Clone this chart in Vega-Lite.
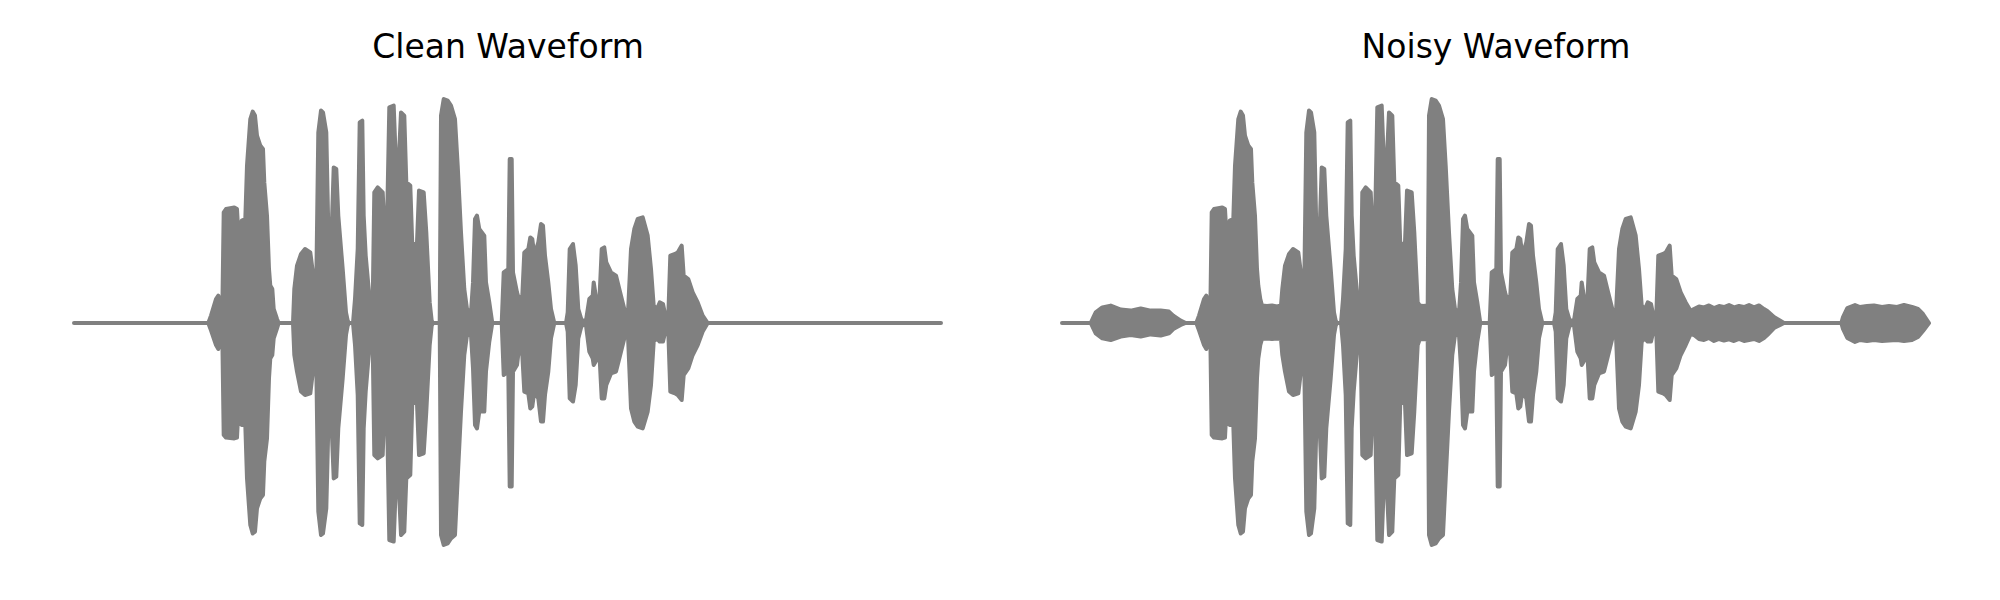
{
  "$schema": "https://vega.github.io/schema/vega-lite/v6.json",
  "autosize": {"type": "pad"},
  "padding": {"left": 72, "top": 32, "right": 0, "bottom": 0},
  "background": "white",
  "config": {"view": {"stroke": null}, "concat": {"spacing": 117}},
  "datasets": {
    "clean": [
      {"t":0,"hi":0,"lo":0},{"t":1.343,"hi":0,"lo":0},{"t":1.37,"hi":0.037,"lo":-0.037},{"t":1.42,"hi":0.12,"lo":-0.11},{"t":1.443,"hi":0.137,"lo":-0.13},{"t":1.463,"hi":0.103,"lo":-0.093},{"t":1.483,"hi":0.053,"lo":-0.06},{"t":1.497,"hi":0.553,"lo":-0.56},{"t":1.52,"hi":0.57,"lo":-0.573},{"t":1.603,"hi":0.578,"lo":-0.577},{"t":1.63,"hi":0.57,"lo":-0.573},{"t":1.643,"hi":0.453,"lo":-0.443},{"t":1.663,"hi":0.445,"lo":-0.502},{"t":1.677,"hi":0.512,"lo":-0.51},{"t":1.713,"hi":0.52,"lo":-0.51},{"t":1.73,"hi":0.787,"lo":-0.777},{"t":1.763,"hi":1.02,"lo":-1.01},{"t":1.787,"hi":1.057,"lo":-1.052},{"t":1.81,"hi":1.037,"lo":-1.043},{"t":1.83,"hi":0.937,"lo":-0.927},{"t":1.863,"hi":0.887,"lo":-0.877},{"t":1.89,"hi":0.87,"lo":-0.86},{"t":1.903,"hi":0.703,"lo":-0.693},{"t":1.93,"hi":0.537,"lo":-0.577},{"t":1.95,"hi":0.27,"lo":-0.277},{"t":1.963,"hi":0.187,"lo":-0.177},{"t":1.983,"hi":0.17,"lo":-0.16},{"t":1.997,"hi":0.07,"lo":-0.077},{"t":2.03,"hi":0.02,"lo":-0.027},{"t":2.047,"hi":0,"lo":0},{"t":2.19,"hi":0,"lo":0},{"t":2.203,"hi":0.17,"lo":-0.16},{"t":2.23,"hi":0.287,"lo":-0.243},{"t":2.27,"hi":0.345,"lo":-0.343},{"t":2.31,"hi":0.37,"lo":-0.36},{"t":2.363,"hi":0.353,"lo":-0.352},{"t":2.397,"hi":0.22,"lo":-0.21},{"t":2.423,"hi":0.203,"lo":-0.21},{"t":2.443,"hi":0.953,"lo":-0.943},{"t":2.47,"hi":1.062,"lo":-1.06},{"t":2.49,"hi":1.053,"lo":-1.052},{"t":2.523,"hi":0.953,"lo":-0.927},{"t":2.543,"hi":0.47,"lo":-0.527},{"t":2.577,"hi":0.47,"lo":-0.527},{"t":2.597,"hi":0.778,"lo":-0.777},{"t":2.623,"hi":0.77,"lo":-0.768},{"t":2.643,"hi":0.537,"lo":-0.527},{"t":2.687,"hi":0.27,"lo":-0.277},{"t":2.72,"hi":0.053,"lo":-0.06},{"t":2.737,"hi":0.012,"lo":-0.013},{"t":2.75,"hi":0,"lo":0},{"t":2.79,"hi":0,"lo":0},{"t":2.81,"hi":0.12,"lo":-0.11},{"t":2.837,"hi":0.37,"lo":-0.36},{"t":2.857,"hi":1.003,"lo":-1.002},{"t":2.883,"hi":1.012,"lo":-1.01},{"t":2.897,"hi":0.537,"lo":-0.527},{"t":2.917,"hi":0.337,"lo":-0.343},{"t":2.953,"hi":0.137,"lo":-0.127},{"t":2.987,"hi":0.103,"lo":-0.11},{"t":3.003,"hi":0.653,"lo":-0.66},{"t":3.037,"hi":0.678,"lo":-0.677},{"t":3.087,"hi":0.653,"lo":-0.66},{"t":3.103,"hi":0.487,"lo":-0.443},{"t":3.13,"hi":0.487,"lo":-0.443},{"t":3.153,"hi":1.078,"lo":-1.085},{"t":3.197,"hi":1.087,"lo":-1.093},{"t":3.217,"hi":0.828,"lo":-0.827},{"t":3.25,"hi":0.837,"lo":-0.843},{"t":3.27,"hi":1.053,"lo":-1.06},{"t":3.303,"hi":1.037,"lo":-1.043},{"t":3.323,"hi":0.703,"lo":-0.777},{"t":3.363,"hi":0.687,"lo":-0.76},{"t":3.383,"hi":0.387,"lo":-0.393},{"t":3.43,"hi":0.403,"lo":-0.402},{"t":3.45,"hi":0.662,"lo":-0.66},{"t":3.497,"hi":0.653,"lo":-0.652},{"t":3.523,"hi":0.453,"lo":-0.443},{"t":3.557,"hi":0.103,"lo":-0.11},{"t":3.577,"hi":0.012,"lo":-0.013},{"t":3.59,"hi":0,"lo":0},{"t":3.657,"hi":0,"lo":0},{"t":3.67,"hi":1.037,"lo":-1.06},{"t":3.697,"hi":1.12,"lo":-1.11},{"t":3.737,"hi":1.112,"lo":-1.102},{"t":3.77,"hi":1.087,"lo":-1.077},{"t":3.81,"hi":1.02,"lo":-1.06},{"t":3.837,"hi":0.787,"lo":-0.777},{"t":3.87,"hi":0.453,"lo":-0.443},{"t":3.903,"hi":0.17,"lo":-0.16},{"t":3.93,"hi":0.07,"lo":-0.06},{"t":3.97,"hi":0.053,"lo":-0.06},{"t":3.99,"hi":0.203,"lo":-0.227},{"t":4.01,"hi":0.52,"lo":-0.51},{"t":4.03,"hi":0.537,"lo":-0.527},{"t":4.053,"hi":0.47,"lo":-0.443},{"t":4.103,"hi":0.437,"lo":-0.443},{"t":4.12,"hi":0.203,"lo":-0.243},{"t":4.153,"hi":0.103,"lo":-0.093},{"t":4.183,"hi":0,"lo":0},{"t":4.277,"hi":0,"lo":0},{"t":4.297,"hi":0.253,"lo":-0.26},{"t":4.343,"hi":0.27,"lo":-0.243},{"t":4.357,"hi":0.82,"lo":-0.818},{"t":4.377,"hi":0.82,"lo":-0.818},{"t":4.39,"hi":0.253,"lo":-0.243},{"t":4.43,"hi":0.153,"lo":-0.21},{"t":4.45,"hi":0.12,"lo":-0.127},{"t":4.483,"hi":0.137,"lo":-0.16},{"t":4.503,"hi":0.353,"lo":-0.343},{"t":4.543,"hi":0.37,"lo":-0.352},{"t":4.563,"hi":0.428,"lo":-0.427},{"t":4.583,"hi":0.42,"lo":-0.418},{"t":4.603,"hi":0.337,"lo":-0.343},{"t":4.643,"hi":0.403,"lo":-0.377},{"t":4.67,"hi":0.495,"lo":-0.493},{"t":4.69,"hi":0.487,"lo":-0.493},{"t":4.71,"hi":0.337,"lo":-0.36},{"t":4.743,"hi":0.203,"lo":-0.243},{"t":4.77,"hi":0.07,"lo":-0.077},{"t":4.803,"hi":0,"lo":0},{"t":4.92,"hi":0,"lo":0},{"t":4.937,"hi":0.053,"lo":-0.043},{"t":4.957,"hi":0.37,"lo":-0.377},{"t":4.99,"hi":0.395,"lo":-0.393},{"t":5.017,"hi":0.287,"lo":-0.31},{"t":5.043,"hi":0.07,"lo":-0.077},{"t":5.077,"hi":0.012,"lo":-0.01},{"t":5.12,"hi":0.012,"lo":-0.013},{"t":5.153,"hi":0.12,"lo":-0.143},{"t":5.187,"hi":0.137,"lo":-0.177},{"t":5.197,"hi":0.203,"lo":-0.21},{"t":5.217,"hi":0.137,"lo":-0.193},{"t":5.253,"hi":0.103,"lo":-0.143},{"t":5.277,"hi":0.37,"lo":-0.377},{"t":5.303,"hi":0.378,"lo":-0.377},{"t":5.323,"hi":0.303,"lo":-0.31},{"t":5.37,"hi":0.253,"lo":-0.252},{"t":5.42,"hi":0.237,"lo":-0.243},{"t":5.453,"hi":0.17,"lo":-0.177},{"t":5.503,"hi":0.07,"lo":-0.077},{"t":5.537,"hi":0.02,"lo":-0.027},{"t":5.57,"hi":0.37,"lo":-0.427},{"t":5.603,"hi":0.47,"lo":-0.493},{"t":5.637,"hi":0.52,"lo":-0.518},{"t":5.687,"hi":0.528,"lo":-0.527},{"t":5.737,"hi":0.437,"lo":-0.443},{"t":5.77,"hi":0.27,"lo":-0.31},{"t":5.797,"hi":0.087,"lo":-0.093},{"t":5.83,"hi":0.07,"lo":-0.077},{"t":5.857,"hi":0.103,"lo":-0.093},{"t":5.89,"hi":0.095,"lo":-0.093},{"t":5.92,"hi":0.02,"lo":-0.027},{"t":5.943,"hi":0.037,"lo":-0.043},{"t":5.963,"hi":0.337,"lo":-0.343},{"t":6.01,"hi":0.345,"lo":-0.352},{"t":6.037,"hi":0.353,"lo":-0.36},{"t":6.077,"hi":0.387,"lo":-0.385},{"t":6.097,"hi":0.237,"lo":-0.26},{"t":6.143,"hi":0.22,"lo":-0.227},{"t":6.187,"hi":0.153,"lo":-0.16},{"t":6.237,"hi":0.103,"lo":-0.11},{"t":6.287,"hi":0.037,"lo":-0.043},{"t":6.337,"hi":0,"lo":0},{"t":8.67,"hi":0,"lo":0}
    ],
    "noisy": [
      {"t":0,"hi":0,"lo":0},{"t":0.287,"hi":0,"lo":0},{"t":0.313,"hi":0.028,"lo":-0.027},{"t":0.337,"hi":0.053,"lo":-0.052},{"t":0.403,"hi":0.078,"lo":-0.077},{"t":0.487,"hi":0.087,"lo":-0.085},{"t":0.587,"hi":0.067,"lo":-0.068},{"t":0.687,"hi":0.062,"lo":-0.06},{"t":0.787,"hi":0.073,"lo":-0.068},{"t":0.887,"hi":0.062,"lo":-0.057},{"t":0.987,"hi":0.062,"lo":-0.063},{"t":1.07,"hi":0.057,"lo":-0.052},{"t":1.113,"hi":0.037,"lo":-0.03},{"t":1.187,"hi":0.012,"lo":-0.01},{"t":1.237,"hi":0,"lo":0},
      {"t":1.343,"hi":0,"lo":0},{"t":1.37,"hi":0.037,"lo":-0.037},{"t":1.42,"hi":0.12,"lo":-0.11},{"t":1.443,"hi":0.137,"lo":-0.13},{"t":1.463,"hi":0.103,"lo":-0.093},{"t":1.483,"hi":0.053,"lo":-0.06},{"t":1.497,"hi":0.553,"lo":-0.56},{"t":1.52,"hi":0.57,"lo":-0.573},{"t":1.603,"hi":0.578,"lo":-0.577},{"t":1.63,"hi":0.57,"lo":-0.573},{"t":1.643,"hi":0.453,"lo":-0.443},{"t":1.663,"hi":0.445,"lo":-0.502},{"t":1.677,"hi":0.512,"lo":-0.51},{"t":1.713,"hi":0.52,"lo":-0.51},{"t":1.73,"hi":0.787,"lo":-0.777},{"t":1.763,"hi":1.02,"lo":-1.01},{"t":1.787,"hi":1.057,"lo":-1.052},{"t":1.81,"hi":1.037,"lo":-1.043},{"t":1.83,"hi":0.937,"lo":-0.927},{"t":1.863,"hi":0.887,"lo":-0.877},{"t":1.89,"hi":0.87,"lo":-0.86},{"t":1.903,"hi":0.703,"lo":-0.693},{"t":1.93,"hi":0.537,"lo":-0.577},{"t":1.95,"hi":0.27,"lo":-0.277},{"t":1.963,"hi":0.187,"lo":-0.177},{"t":1.983,"hi":0.12,"lo":-0.11},
      {"t":2.0,"hi":0.088,"lo":-0.08},{"t":2.05,"hi":0.085,"lo":-0.077},{"t":2.1,"hi":0.088,"lo":-0.08},{"t":2.15,"hi":0.083,"lo":-0.078},{"t":2.19,"hi":0.088,"lo":-0.08},
      {"t":2.203,"hi":0.17,"lo":-0.16},{"t":2.23,"hi":0.287,"lo":-0.243},{"t":2.27,"hi":0.345,"lo":-0.343},{"t":2.31,"hi":0.37,"lo":-0.36},{"t":2.363,"hi":0.353,"lo":-0.352},{"t":2.397,"hi":0.22,"lo":-0.21},{"t":2.423,"hi":0.203,"lo":-0.21},{"t":2.443,"hi":0.953,"lo":-0.943},{"t":2.47,"hi":1.062,"lo":-1.06},{"t":2.49,"hi":1.053,"lo":-1.052},{"t":2.523,"hi":0.953,"lo":-0.927},{"t":2.543,"hi":0.47,"lo":-0.527},{"t":2.577,"hi":0.47,"lo":-0.527},{"t":2.597,"hi":0.778,"lo":-0.777},{"t":2.623,"hi":0.77,"lo":-0.768},{"t":2.643,"hi":0.537,"lo":-0.527},{"t":2.687,"hi":0.27,"lo":-0.277},{"t":2.72,"hi":0.053,"lo":-0.06},{"t":2.737,"hi":0.012,"lo":-0.013},{"t":2.75,"hi":0,"lo":0},{"t":2.79,"hi":0,"lo":0},{"t":2.81,"hi":0.12,"lo":-0.11},{"t":2.837,"hi":0.37,"lo":-0.36},{"t":2.857,"hi":1.003,"lo":-1.002},{"t":2.883,"hi":1.012,"lo":-1.01},{"t":2.897,"hi":0.537,"lo":-0.527},{"t":2.917,"hi":0.337,"lo":-0.343},{"t":2.953,"hi":0.137,"lo":-0.127},{"t":2.987,"hi":0.103,"lo":-0.11},{"t":3.003,"hi":0.653,"lo":-0.66},{"t":3.037,"hi":0.678,"lo":-0.677},{"t":3.087,"hi":0.653,"lo":-0.66},{"t":3.103,"hi":0.487,"lo":-0.443},{"t":3.13,"hi":0.487,"lo":-0.443},{"t":3.153,"hi":1.078,"lo":-1.085},{"t":3.197,"hi":1.087,"lo":-1.093},{"t":3.217,"hi":0.828,"lo":-0.827},{"t":3.25,"hi":0.837,"lo":-0.843},{"t":3.27,"hi":1.053,"lo":-1.06},{"t":3.303,"hi":1.037,"lo":-1.043},{"t":3.323,"hi":0.703,"lo":-0.777},{"t":3.363,"hi":0.687,"lo":-0.76},{"t":3.383,"hi":0.387,"lo":-0.393},{"t":3.43,"hi":0.403,"lo":-0.402},{"t":3.45,"hi":0.662,"lo":-0.66},{"t":3.497,"hi":0.653,"lo":-0.652},{"t":3.523,"hi":0.453,"lo":-0.443},{"t":3.557,"hi":0.103,"lo":-0.11},
      {"t":3.577,"hi":0.088,"lo":-0.083},{"t":3.61,"hi":0.085,"lo":-0.08},{"t":3.657,"hi":0.088,"lo":-0.083},
      {"t":3.67,"hi":1.037,"lo":-1.06},{"t":3.697,"hi":1.12,"lo":-1.11},{"t":3.737,"hi":1.112,"lo":-1.102},{"t":3.77,"hi":1.087,"lo":-1.077},{"t":3.81,"hi":1.02,"lo":-1.06},{"t":3.837,"hi":0.787,"lo":-0.777},{"t":3.87,"hi":0.453,"lo":-0.443},{"t":3.903,"hi":0.17,"lo":-0.16},{"t":3.93,"hi":0.07,"lo":-0.06},{"t":3.97,"hi":0.053,"lo":-0.06},{"t":3.99,"hi":0.203,"lo":-0.227},{"t":4.01,"hi":0.52,"lo":-0.51},{"t":4.03,"hi":0.537,"lo":-0.527},{"t":4.053,"hi":0.47,"lo":-0.443},{"t":4.103,"hi":0.437,"lo":-0.443},{"t":4.12,"hi":0.203,"lo":-0.243},{"t":4.153,"hi":0.103,"lo":-0.093},{"t":4.183,"hi":0,"lo":0},{"t":4.277,"hi":0,"lo":0},{"t":4.297,"hi":0.253,"lo":-0.26},{"t":4.343,"hi":0.27,"lo":-0.243},{"t":4.357,"hi":0.82,"lo":-0.818},{"t":4.377,"hi":0.82,"lo":-0.818},{"t":4.39,"hi":0.253,"lo":-0.243},{"t":4.43,"hi":0.153,"lo":-0.21},{"t":4.45,"hi":0.12,"lo":-0.127},{"t":4.483,"hi":0.137,"lo":-0.16},{"t":4.503,"hi":0.353,"lo":-0.343},{"t":4.543,"hi":0.37,"lo":-0.352},{"t":4.563,"hi":0.428,"lo":-0.427},{"t":4.583,"hi":0.42,"lo":-0.418},{"t":4.603,"hi":0.337,"lo":-0.343},{"t":4.643,"hi":0.403,"lo":-0.377},{"t":4.67,"hi":0.495,"lo":-0.493},{"t":4.69,"hi":0.487,"lo":-0.493},{"t":4.71,"hi":0.337,"lo":-0.36},{"t":4.743,"hi":0.203,"lo":-0.243},{"t":4.77,"hi":0.07,"lo":-0.077},{"t":4.803,"hi":0,"lo":0},{"t":4.92,"hi":0,"lo":0},{"t":4.937,"hi":0.053,"lo":-0.043},{"t":4.957,"hi":0.37,"lo":-0.377},{"t":4.99,"hi":0.395,"lo":-0.393},{"t":5.017,"hi":0.287,"lo":-0.31},{"t":5.043,"hi":0.07,"lo":-0.077},{"t":5.077,"hi":0.012,"lo":-0.01},{"t":5.12,"hi":0.012,"lo":-0.013},{"t":5.153,"hi":0.12,"lo":-0.143},{"t":5.187,"hi":0.137,"lo":-0.177},{"t":5.197,"hi":0.203,"lo":-0.21},{"t":5.217,"hi":0.137,"lo":-0.193},{"t":5.253,"hi":0.103,"lo":-0.143},{"t":5.277,"hi":0.37,"lo":-0.377},{"t":5.303,"hi":0.378,"lo":-0.377},{"t":5.323,"hi":0.303,"lo":-0.31},{"t":5.37,"hi":0.253,"lo":-0.252},{"t":5.42,"hi":0.237,"lo":-0.243},{"t":5.453,"hi":0.17,"lo":-0.177},{"t":5.503,"hi":0.07,"lo":-0.077},{"t":5.537,"hi":0.02,"lo":-0.027},{"t":5.57,"hi":0.37,"lo":-0.427},{"t":5.603,"hi":0.47,"lo":-0.493},{"t":5.637,"hi":0.52,"lo":-0.518},{"t":5.687,"hi":0.528,"lo":-0.527},{"t":5.737,"hi":0.437,"lo":-0.443},{"t":5.77,"hi":0.27,"lo":-0.31},{"t":5.797,"hi":0.087,"lo":-0.093},{"t":5.83,"hi":0.07,"lo":-0.077},{"t":5.857,"hi":0.103,"lo":-0.093},{"t":5.89,"hi":0.095,"lo":-0.093},{"t":5.92,"hi":0.02,"lo":-0.027},{"t":5.943,"hi":0.037,"lo":-0.043},{"t":5.963,"hi":0.337,"lo":-0.343},{"t":6.01,"hi":0.345,"lo":-0.352},{"t":6.037,"hi":0.353,"lo":-0.36},{"t":6.077,"hi":0.387,"lo":-0.385},{"t":6.097,"hi":0.237,"lo":-0.26},{"t":6.143,"hi":0.22,"lo":-0.227},{"t":6.187,"hi":0.153,"lo":-0.16},{"t":6.237,"hi":0.103,"lo":-0.11},{"t":6.287,"hi":0.06,"lo":-0.055},
      {"t":6.32,"hi":0.07,"lo":-0.06},{"t":6.37,"hi":0.083,"lo":-0.08},{"t":6.42,"hi":0.078,"lo":-0.085},{"t":6.47,"hi":0.088,"lo":-0.075},{"t":6.52,"hi":0.075,"lo":-0.09},{"t":6.57,"hi":0.085,"lo":-0.08},{"t":6.62,"hi":0.08,"lo":-0.088},{"t":6.67,"hi":0.09,"lo":-0.082},{"t":6.72,"hi":0.078,"lo":-0.09},{"t":6.77,"hi":0.085,"lo":-0.08},{"t":6.82,"hi":0.08,"lo":-0.09},{"t":6.87,"hi":0.09,"lo":-0.085},{"t":6.92,"hi":0.078,"lo":-0.08},{"t":6.97,"hi":0.088,"lo":-0.09},{"t":7.02,"hi":0.07,"lo":-0.075},{"t":7.053,"hi":0.06,"lo":-0.06},{"t":7.12,"hi":0.03,"lo":-0.025},{"t":7.187,"hi":0.01,"lo":-0.008},{"t":7.22,"hi":0,"lo":0},
      {"t":7.793,"hi":0,"lo":0},{"t":7.81,"hi":0.03,"lo":-0.03},{"t":7.853,"hi":0.075,"lo":-0.075},{"t":7.93,"hi":0.09,"lo":-0.095},{"t":7.98,"hi":0.08,"lo":-0.085},{"t":8.05,"hi":0.085,"lo":-0.09},{"t":8.12,"hi":0.088,"lo":-0.085},{"t":8.2,"hi":0.08,"lo":-0.09},{"t":8.27,"hi":0.085,"lo":-0.088},{"t":8.35,"hi":0.08,"lo":-0.085},{"t":8.42,"hi":0.09,"lo":-0.09},{"t":8.5,"hi":0.08,"lo":-0.085},{"t":8.56,"hi":0.07,"lo":-0.07},{"t":8.61,"hi":0.045,"lo":-0.04},{"t":8.67,"hi":0,"lo":0}
    ]
  },
  "hconcat": [
    {
      "data": {"name": "clean"},
      "width": 868,
      "height": 486,
      "title": {"text": "Clean Waveform", "font": "DejaVu Sans", "fontSize": 33, "fontWeight": "normal", "color": "#000000", "anchor": "middle", "baseline": "alphabetic", "offset": -11},
      "mark": {"type": "area", "color": "#808080", "stroke": "#808080", "strokeWidth": 4, "strokeJoin": "round", "opacity": 1, "fillOpacity": 1},
      "encoding": {
        "x": {"field": "t", "type": "quantitative", "scale": {"domain": [0, 8.68], "nice": false, "zero": false}, "axis": null},
        "y": {"field": "hi", "type": "quantitative", "scale": {"domain": [-1.215, 1.215], "nice": false}, "axis": null},
        "y2": {"field": "lo"}
      }
    },
    {
      "data": {"name": "noisy"},
      "width": 868,
      "height": 486,
      "title": {"text": "Noisy Waveform", "font": "DejaVu Sans", "fontSize": 33, "fontWeight": "normal", "color": "#000000", "anchor": "middle", "baseline": "alphabetic", "offset": -11},
      "mark": {"type": "area", "color": "#808080", "stroke": "#808080", "strokeWidth": 4, "strokeJoin": "round", "opacity": 1, "fillOpacity": 1},
      "encoding": {
        "x": {"field": "t", "type": "quantitative", "scale": {"domain": [0, 8.68], "nice": false, "zero": false}, "axis": null},
        "y": {"field": "hi", "type": "quantitative", "scale": {"domain": [-1.215, 1.215], "nice": false}, "axis": null},
        "y2": {"field": "lo"}
      }
    }
  ]
}
